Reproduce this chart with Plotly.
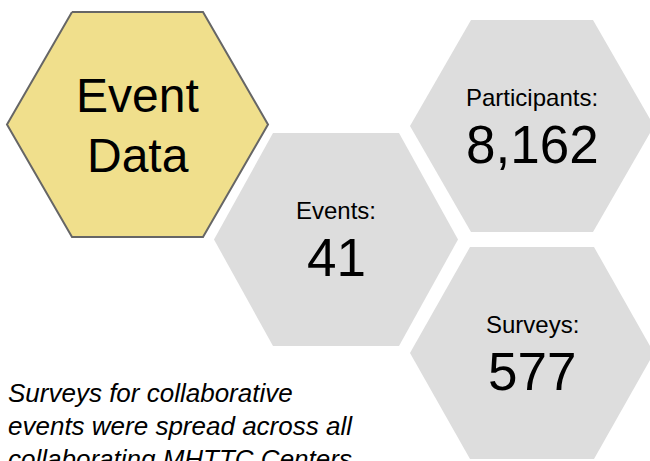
import plotly.graph_objects as go

# ---- data ----
title_lines = ["Event", "Data"]
stat_labels = ["Participants:", "Events:", "Surveys:"]
stat_values = [8162, 41, 577]
note_lines = ["Surveys for collaborative",
              "events were spread across all",
              "collaborating MHTTC Centers"]

# ---- layout constants (pixel-like coordinates, y down) ----
W, H = 650, 461
title_hex = dict(cx=137.5, cy=124.5, w=130.5, h=112.5, t=65.5)
stat_hex = [dict(cx=532, cy=126, w=122, h=106, t=61),
            dict(cx=336, cy=239.5, w=122, h=106.5, t=63),
            dict(cx=532, cy=353, w=122, h=106, t=62)]
SANS = "Liberation Sans, Arial, sans-serif"
GRAY = "#dddddd"
YELLOW = "#f0df8c"


def hexagon(p):
    xs = [p["cx"] - p["t"], p["cx"] + p["t"], p["cx"] + p["w"], p["cx"] + p["t"],
          p["cx"] - p["t"], p["cx"] - p["w"], p["cx"] - p["t"]]
    ys = [p["cy"] - p["h"], p["cy"] - p["h"], p["cy"], p["cy"] + p["h"],
          p["cy"] + p["h"], p["cy"], p["cy"] - p["h"]]
    return xs, ys


fig = go.Figure()
for p in stat_hex:
    xs, ys = hexagon(p)
    fig.add_trace(go.Scatter(x=xs, y=ys, mode="lines", fill="toself",
                             fillcolor=GRAY, line=dict(width=0, color=GRAY),
                             hoverinfo="skip", showlegend=False))
xs, ys = hexagon(title_hex)
fig.add_trace(go.Scatter(x=xs, y=ys, mode="lines", fill="toself",
                         fillcolor=YELLOW, line=dict(width=2, color="#666666"),
                         hoverinfo="skip", showlegend=False))

annotations = []
# title
for i, line in enumerate(title_lines):
    annotations.append(dict(x=title_hex["cx"], y=95 + 60 * i, text=line,
                            showarrow=False, xanchor="center", yanchor="middle",
                            font=dict(family=SANS, size=48, color="#000000")))
# stats
for p, lab, val in zip(stat_hex, stat_labels, stat_values):
    annotations.append(dict(x=p["cx"], y=p["cy"] - 29, text=lab, showarrow=False,
                            xanchor="center", yanchor="middle",
                            font=dict(family=SANS, size=24, color="#000000")))
    annotations.append(dict(x=p["cx"], y=p["cy"] + 18, text=f"{val:,}", showarrow=False,
                            xanchor="center", yanchor="middle",
                            font=dict(family=SANS, size=53, color="#000000")))
# note
for i, line in enumerate(note_lines):
    annotations.append(dict(x=6, y=393 + 33 * i, text=f"<i>{line}</i>", showarrow=False,
                            xanchor="left", yanchor="middle",
                            font=dict(family=SANS, size=26, color="#000000")))

fig.update_layout(
    width=W, height=H, margin=dict(l=0, r=0, t=0, b=0),
    paper_bgcolor="white", plot_bgcolor="white",
    xaxis=dict(range=[0, W], visible=False, fixedrange=True),
    yaxis=dict(range=[H, 0], visible=False, fixedrange=True),
    annotations=annotations, showlegend=False,
)
fig.write_html("out.html", config={"displayModeBar": False},
               post_script="document.body.style.margin='0';")
